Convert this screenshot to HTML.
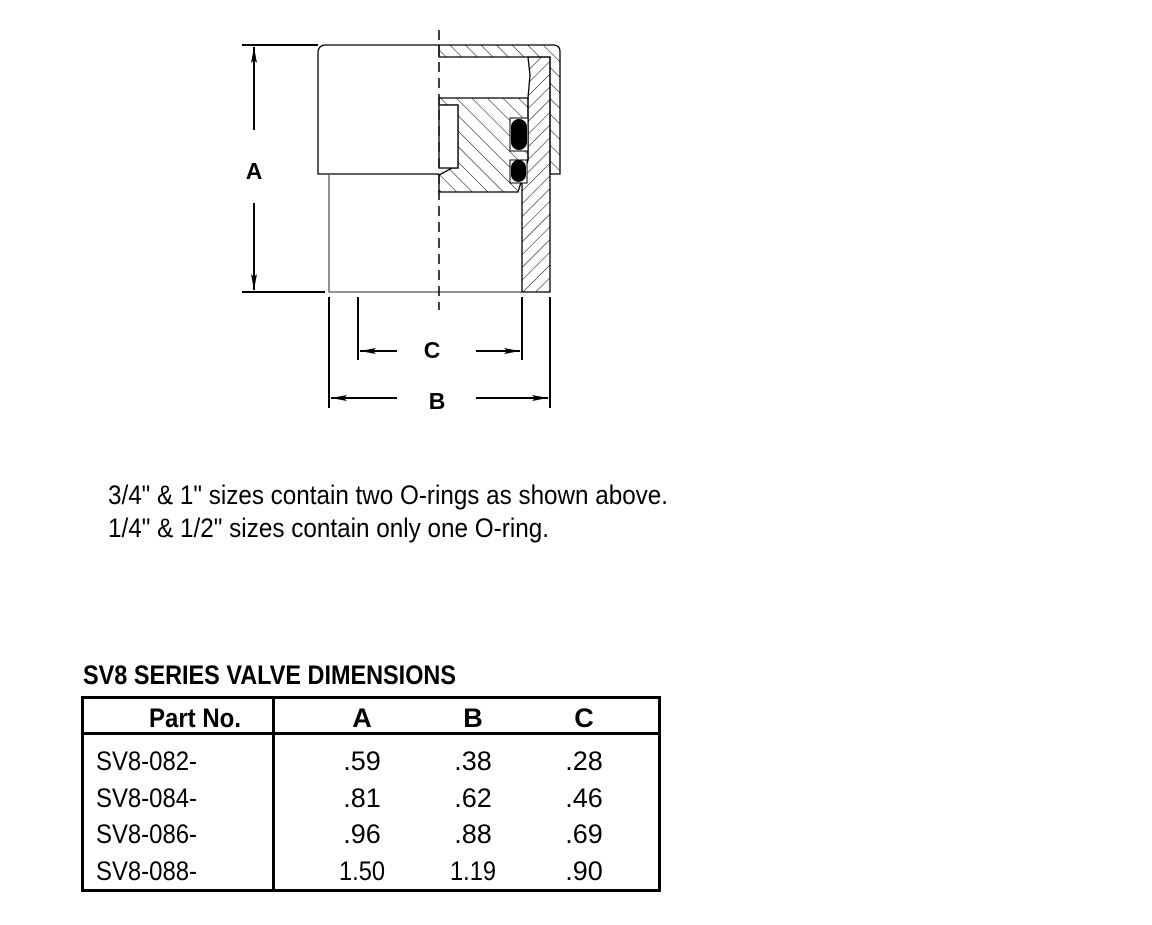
<!DOCTYPE html>
<html><head><meta charset="utf-8"><style>
html,body{margin:0;padding:0;background:#fff;}
svg{display:block;font-family:"Liberation Sans Narrow","Liberation Sans",sans-serif;}
</style></head><body>
<svg width="1152" height="925" viewBox="0 0 1152 925" xmlns="http://www.w3.org/2000/svg">
<defs>
<pattern id="h1" patternUnits="userSpaceOnUse" width="9" height="9" patternTransform="rotate(45)">
<line x1="0" y1="0" x2="0" y2="9" stroke="#000" stroke-width="1"/></pattern>
<pattern id="h2" patternUnits="userSpaceOnUse" width="11" height="11" patternTransform="rotate(-45)">
<line x1="0" y1="0" x2="0" y2="11" stroke="#000" stroke-width="1"/></pattern>
<marker id="ar" markerWidth="16" markerHeight="8" refX="16" refY="4" orient="auto" markerUnits="userSpaceOnUse">
<path d="M0,1 L16,4 L0,7 L3,4 Z" fill="#000"/></marker>
</defs>
<g fill="none" stroke="#000">
<line x1="242" y1="45" x2="318" y2="45" stroke-width="2"/>
<line x1="242" y1="292" x2="325" y2="292" stroke-width="2"/>
<line x1="254" y1="130" x2="254" y2="47" stroke-width="2" marker-end="url(#ar)"/>
<line x1="254" y1="203" x2="254" y2="290" stroke-width="2" marker-end="url(#ar)"/>
<path d="M439,45 L326,45 Q318,45 318,53 L318,174 L439,174" stroke-width="1.3"/>
<path d="M329,174 L329,292 L522,292" stroke-width="1.3" stroke="#555"/>
<path d="M439,45 L553,45 Q560,45 560,52 L560,174 L550,174 L550,57 L439,57 Z" fill="url(#h2)" stroke-width="1.3"/>
<path d="M528,57 L550,57 L550,292 L522,292 L522,180 L528,160 L528,98 L530,75 Z" fill="url(#h1)" stroke-width="1.3"/>
<path d="M439,98 L528,98 L528,160 L518,192 L439,192 L439,175 L452,168 L458,168 L458,105 L439,105 Z" fill="url(#h2)" stroke-width="1.3"/>
<rect x="439" y="105" width="19" height="63" fill="#fff" stroke-width="1.3"/>
<rect x="510" y="118" width="18" height="33" fill="#fff" stroke-width="1"/>
<rect x="510" y="160" width="17" height="23" fill="#fff" stroke-width="1"/>
</g>
<rect x="511" y="119" width="16" height="31" rx="8" fill="#000"/>
<rect x="511" y="160" width="15" height="22" rx="7.5" fill="#000"/>
<line x1="439" y1="30" x2="439" y2="310" stroke="#000" stroke-width="1.5" stroke-dasharray="10,6"/>
<g stroke="#000" stroke-width="2" fill="none">
<line x1="358" y1="297" x2="358" y2="360"/>
<line x1="522" y1="297" x2="522" y2="360"/>
<line x1="329" y1="297" x2="329" y2="408"/>
<line x1="550" y1="297" x2="550" y2="408"/>
<line x1="397" y1="351" x2="360" y2="351" marker-end="url(#ar)"/>
<line x1="476" y1="351" x2="520" y2="351" marker-end="url(#ar)"/>
<line x1="397" y1="398" x2="331" y2="398" marker-end="url(#ar)"/>
<line x1="476" y1="398" x2="548" y2="398" marker-end="url(#ar)"/>
</g>
<g font-family="Liberation Sans, sans-serif" font-weight="bold" font-size="23" text-anchor="middle">
<text x="254" y="179">A</text>
<text x="432" y="358">C</text>
<text x="437" y="409">B</text>
</g>
<g font-size="27" fill="#000">
<text x="108" y="504" textLength="560" lengthAdjust="spacingAndGlyphs">3/4" &amp; 1" sizes contain two O-rings as shown above.</text>
<text x="108" y="537" textLength="441" lengthAdjust="spacingAndGlyphs">1/4" &amp; 1/2" sizes contain only one O-ring.</text>
</g>
<text x="83" y="684" font-size="27" font-weight="bold" textLength="373" lengthAdjust="spacingAndGlyphs">SV8 SERIES VALVE DIMENSIONS</text>
<rect x="82.5" y="697.5" width="577" height="193" fill="none" stroke="#000" stroke-width="3"/>
<line x1="82" y1="733.5" x2="660" y2="733.5" stroke="#000" stroke-width="3"/>
<line x1="273.5" y1="697" x2="273.5" y2="891" stroke="#000" stroke-width="3"/>
<g font-size="27" font-weight="bold" text-anchor="middle">
<text x="195" y="727" textLength="92" lengthAdjust="spacingAndGlyphs">Part No.</text>
<text x="362" y="727">A</text>
<text x="473" y="727">B</text>
<text x="584" y="727">C</text>
</g>
<g font-size="27">
<text x="96" y="770" textLength="101" lengthAdjust="spacingAndGlyphs">SV8-082-</text>
<text x="96" y="807" textLength="101" lengthAdjust="spacingAndGlyphs">SV8-084-</text>
<text x="96" y="843" textLength="101" lengthAdjust="spacingAndGlyphs">SV8-086-</text>
<text x="96" y="880" textLength="101" lengthAdjust="spacingAndGlyphs">SV8-088-</text>
</g>
<g font-size="27" text-anchor="middle">
<text x="362" y="770">.59</text><text x="473" y="770">.38</text><text x="584" y="770">.28</text>
<text x="362" y="807">.81</text><text x="473" y="807">.62</text><text x="584" y="807">.46</text>
<text x="362" y="843">.96</text><text x="473" y="843">.88</text><text x="584" y="843">.69</text>
<text x="362" y="880" textLength="46" lengthAdjust="spacingAndGlyphs">1.50</text><text x="473" y="880" textLength="46" lengthAdjust="spacingAndGlyphs">1.19</text><text x="584" y="880">.90</text>
</g>
</svg>
</body></html>
